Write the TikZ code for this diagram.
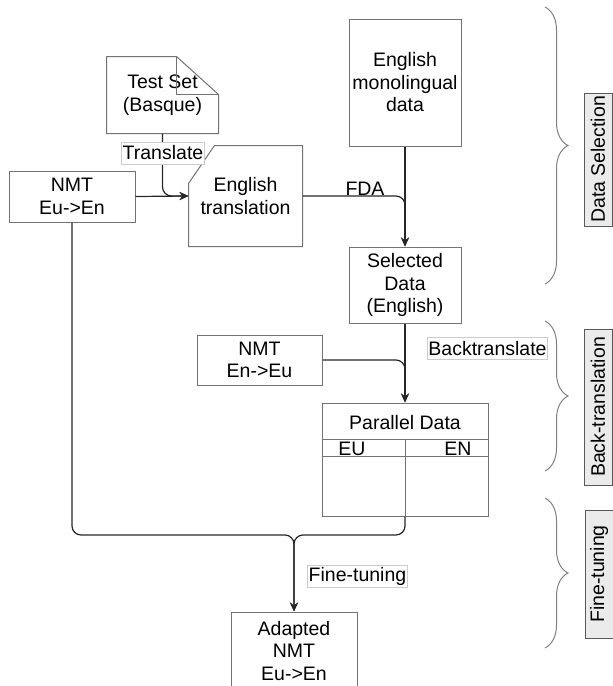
\documentclass[tikz,border=0pt]{standalone}
\usepackage{fontspec}
\setmainfont{Liberation Sans}
\usetikzlibrary{arrows.meta,decorations.pathreplacing}

\begin{document}
\begin{tikzpicture}[x = 1pt, y = -1pt, line width = 1pt,
				font = \fontsize{19.5}{22.5}\selectfont,
				box/.style = {rectangle, draw = black!55, align = center,
				inner sep = 0pt},
				plain/.style = {rectangle, align = center, inner sep = 0pt},
				outline/.style = {draw = black!55},
				tag/.style = {rectangle, draw = black!20, fill = white,
				inner sep = 1pt, minimum height = 22},
				phase/.style = {rectangle, draw = black!65, fill = black!8,
				rotate = 90, inner sep = 1pt, minimum height = 28},
				link/.style = {draw = black!85, line width = 1.2pt,
				rounded corners = 9pt, -{Stealth[length = 9pt, width = 8pt]}},
				curly/.style = {draw = black!50, decorate,
				decoration = {brace, amplitude = 23pt}},
				]

		\useasboundingbox (0,0) rectangle (613,686);

		\node [plain, minimum width = 111, minimum height = 76] (testset) at (162.5,95) {Test Set\\(Basque)};
		\node [box, minimum width = 126, minimum height = 51] (nmt_1) at (72,196.5) {NMT\\Eu->En};
		\node [plain, minimum width = 113, minimum height = 100] (transl) at (245.5,196) {English\\translation};
		\node [box, minimum width = 112, minimum height = 127] (mono) at (405,82.5) {English\\monolingual\\data};
		\node [box, minimum width = 112, minimum height = 76] (selected) at (405,285) {Selected\\Data\\(English)};
		\node [box, minimum width = 125, minimum height = 50] (nmt_2) at (259.5,360) {NMT\\En->Eu};
		\node [box, minimum width = 166, minimum height = 113] (parallel) at (405,459.5) {};
		\node [box, minimum width = 126, minimum height = 78] (adapted) at (294,651) {Adapted\\NMT\\Eu->En};

		% document and cut-corner outlines
		\draw [outline] (testset.south west) -- (testset.north west) -- ([xshift = -42pt] testset.north east)
				-- ([yshift = -38pt] testset.north east) -- (testset.south east) -- cycle;
		\draw [outline] ([xshift = -42pt] testset.north east) |- ([yshift = -38pt] testset.north east);
		\draw [outline] (transl.south west) -- ([yshift = -38pt] transl.north west) -- ([xshift = 26pt] transl.north west)
				-- (transl.north east) -- (transl.south east) -- cycle;

		% table of parallel data
		\draw [outline] ([yshift = -37pt] parallel.north west) -- ([yshift = -37pt] parallel.north east);
		\draw [outline] ([yshift = -54pt] parallel.north west) -- ([yshift = -54pt] parallel.north east);
		\draw [outline] ([yshift = -37pt] parallel.north) -- (parallel.south);
		\node [plain] (p_title) at (405,423) {Parallel Data};
		\node [plain] (p_eu) at (352,449) {EU};
		\node [plain] (p_en) at (458,449) {EN};

		\coordinate (join) at (294,535);
		\draw [link] (testset.south) |- (transl.west);
		\draw [link] (nmt_1.east) -- (transl.west);
		\draw [link] (transl.east) -| (selected.north);
		\draw [link] (mono.south) -- (selected.north);
		\draw [link] (selected.south) -- (parallel.north);
		\draw [link] (nmt_2.east) -| (parallel.north);
		\draw [link] (nmt_1.south) |- (join) -- (adapted.north);
		\draw [link] (parallel.south) |- (join) -- (adapted.north);

		\node [tag] (t_translate) at (163,153) {Translate};
		\node [plain] (t_fda) at (365,189) {FDA};
		\node [tag] (t_back) at (487.5,348.5) {Backtranslate};
		\node [tag] (t_fine) at (357.5,576) {Fine-tuning};

		\draw [curly] (545,7) -- (545,284);
		\draw [curly] (545,321) -- (545,471);
		\draw [curly] (545,498) -- (545,648);
		\node [phase, minimum width = 133] (ph_sel) at (598,159.5) {Data Selection};
		\node [phase, minimum width = 156] (ph_back) at (598,407) {Back-translation};
		\node [phase, minimum width = 128] (ph_fine) at (599,574) {Fine-tuning};
\end{tikzpicture}
\end{document}
